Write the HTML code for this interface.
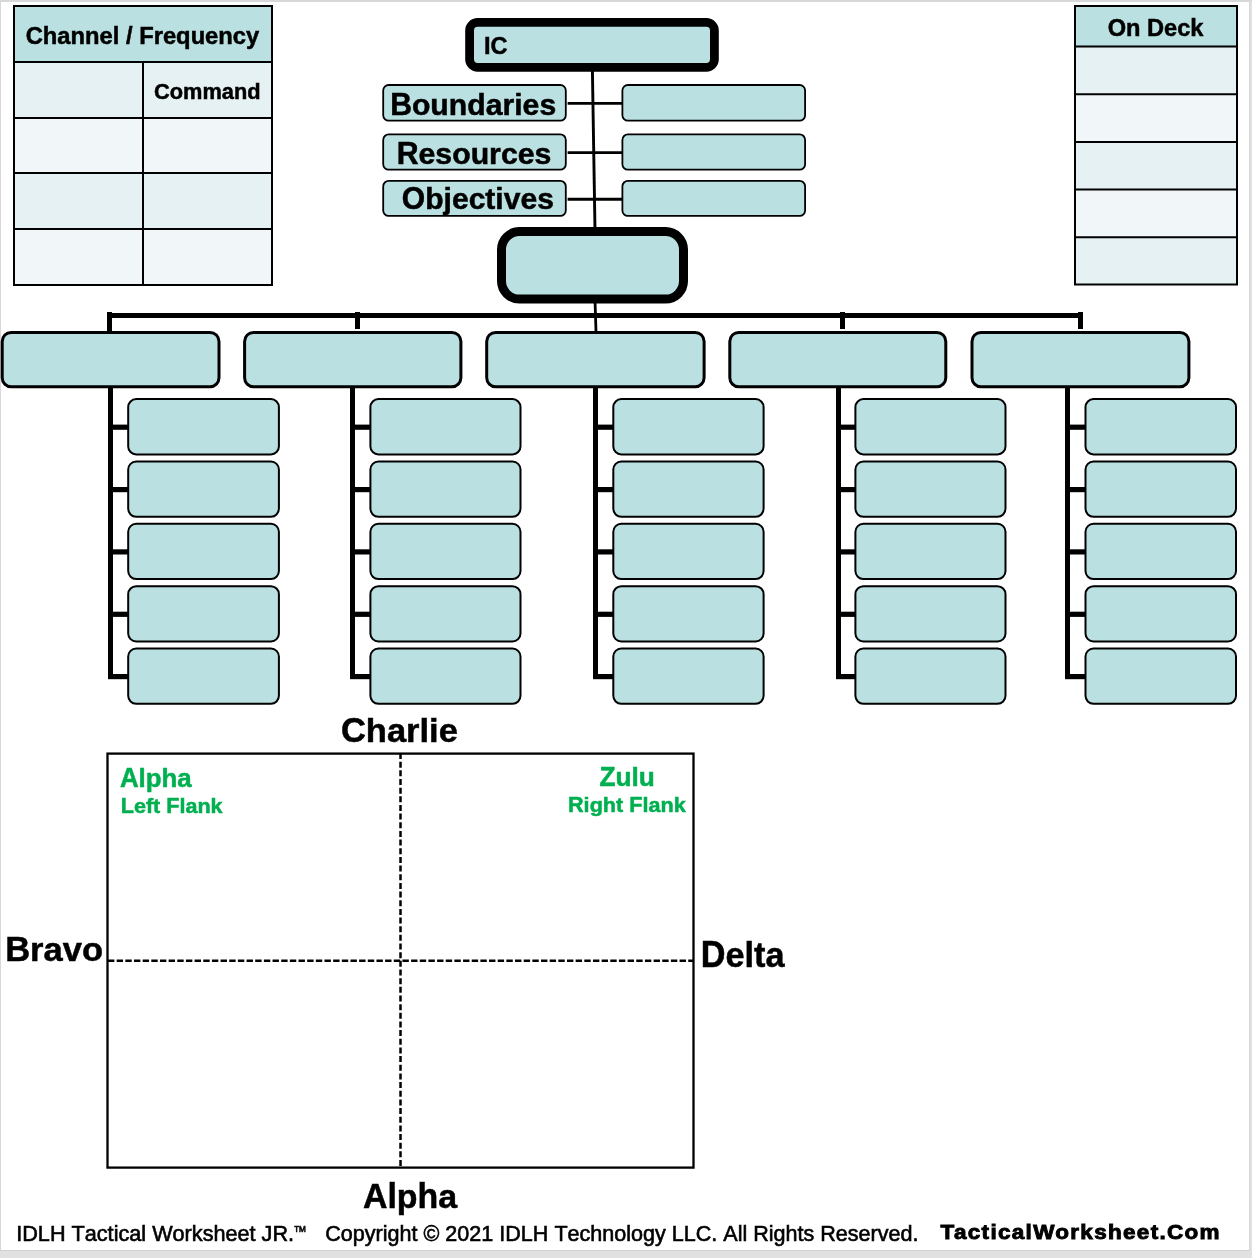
<!DOCTYPE html>
<html><head><meta charset="utf-8"><style>
html,body{margin:0;padding:0;background:#d9d9d9;width:1252px;height:1258px;overflow:hidden}
svg{display:block;will-change:transform;font-family:"Liberation Sans",sans-serif}
</style></head><body>
<svg width="1252" height="1258" viewBox="0 0 1252 1258">
<rect x="0" y="0" width="1252" height="1258" fill="#e1e1e1"/>
<rect x="0" y="0" width="1252" height="2" fill="#d8d8d8"/>
<rect x="0" y="0" width="1" height="1250" fill="#d8d8d8"/>
<rect x="1249" y="0" width="1" height="1251" fill="#d6d6d6"/>
<rect x="0" y="1250" width="1250" height="1" fill="#d0d0d0"/>
<rect x="1" y="2" width="1248" height="1248" fill="#fff"/>
<rect x="14" y="6" width="258" height="56" fill="#bae0e1"/>
<rect x="14" y="62" width="258" height="56" fill="#e6f1f3"/>
<rect x="14" y="118" width="258" height="55" fill="#f1f7f9"/>
<rect x="14" y="173" width="258" height="56" fill="#e6f1f3"/>
<rect x="14" y="229" width="258" height="56" fill="#f1f7f9"/>
<g stroke="#000" stroke-width="2" fill="none">
<rect x="14" y="6" width="258" height="279"/>
<line x1="13" y1="62" x2="273" y2="62"/>
<line x1="13" y1="118" x2="273" y2="118"/>
<line x1="13" y1="173" x2="273" y2="173"/>
<line x1="13" y1="229" x2="273" y2="229"/>
<line x1="143" y1="62" x2="143" y2="285"/>
</g>
<rect x="1075" y="6" width="162" height="40.5" fill="#bae0e1"/>
<rect x="1075" y="46.5" width="162" height="47.7" fill="#e6f1f3"/>
<rect x="1075" y="94.2" width="162" height="47.7" fill="#f1f7f9"/>
<rect x="1075" y="141.9" width="162" height="47.7" fill="#e6f1f3"/>
<rect x="1075" y="189.6" width="162" height="47.7" fill="#f1f7f9"/>
<rect x="1075" y="237.3" width="162" height="47.2" fill="#e6f1f3"/>
<g stroke="#000" stroke-width="2" fill="none">
<rect x="1075" y="6" width="162" height="278.5"/>
<line x1="1074" y1="46.5" x2="1238" y2="46.5"/>
<line x1="1074" y1="94.2" x2="1238" y2="94.2"/>
<line x1="1074" y1="141.9" x2="1238" y2="141.9"/>
<line x1="1074" y1="189.6" x2="1238" y2="189.6"/>
<line x1="1074" y1="237.3" x2="1238" y2="237.3"/>
</g>
<line x1="592.4" y1="70" x2="595.0" y2="230" stroke="#000" stroke-width="2.9"/>
<line x1="567.6" y1="103.4" x2="623" y2="103.4" stroke="#000" stroke-width="2.9"/>
<line x1="567.6" y1="152.6" x2="623" y2="152.6" stroke="#000" stroke-width="2.9"/>
<line x1="567.6" y1="199.2" x2="623" y2="199.2" stroke="#000" stroke-width="2.9"/>
<rect x="469.6" y="22.4" width="244.8" height="44.9" rx="8" fill="#bae0e1" stroke="#000" stroke-width="8.8"/>
<rect x="383.2" y="85.0" width="182.6" height="35.7" rx="5.5" fill="#bae0e1" stroke="#000" stroke-width="1.8"/>
<rect x="622.4" y="85.0" width="182.7" height="35.7" rx="5.5" fill="#bae0e1" stroke="#000" stroke-width="1.8"/>
<rect x="383.2" y="134.4" width="182.6" height="35.3" rx="5.5" fill="#bae0e1" stroke="#000" stroke-width="1.8"/>
<rect x="622.4" y="134.4" width="182.7" height="35.3" rx="5.5" fill="#bae0e1" stroke="#000" stroke-width="1.8"/>
<rect x="383.2" y="180.9" width="182.6" height="35.0" rx="5.5" fill="#bae0e1" stroke="#000" stroke-width="1.8"/>
<rect x="622.4" y="180.9" width="182.7" height="35.0" rx="5.5" fill="#bae0e1" stroke="#000" stroke-width="1.8"/>
<line x1="595" y1="300" x2="596" y2="332" stroke="#000" stroke-width="2.8"/>
<rect x="501.5" y="231.6" width="182" height="67.5" rx="18" fill="#bae0e1" stroke="#000" stroke-width="9"/>
<g fill="#000">
<rect x="107" y="313" width="976" height="5"/>
<rect x="107" y="312" width="5" height="19.5"/>
<rect x="355" y="312" width="5" height="17"/>
<rect x="840" y="312" width="5" height="17"/>
<rect x="1078" y="312" width="5" height="17"/>
</g>
<rect x="108" y="386" width="5" height="292.7" fill="#000"/>
<rect x="108" y="424.6" width="20.2" height="5.2" fill="#000"/>
<rect x="108" y="487.0" width="20.2" height="5.2" fill="#000"/>
<rect x="108" y="549.3" width="20.2" height="5.2" fill="#000"/>
<rect x="108" y="611.7" width="20.2" height="5.2" fill="#000"/>
<rect x="108" y="674.0" width="20.2" height="5.2" fill="#000"/>
<rect x="350" y="386" width="5" height="292.7" fill="#000"/>
<rect x="350" y="424.6" width="20.4" height="5.2" fill="#000"/>
<rect x="350" y="487.0" width="20.4" height="5.2" fill="#000"/>
<rect x="350" y="549.3" width="20.4" height="5.2" fill="#000"/>
<rect x="350" y="611.7" width="20.4" height="5.2" fill="#000"/>
<rect x="350" y="674.0" width="20.4" height="5.2" fill="#000"/>
<rect x="593" y="386" width="5" height="292.7" fill="#000"/>
<rect x="593" y="424.6" width="20.3" height="5.2" fill="#000"/>
<rect x="593" y="487.0" width="20.3" height="5.2" fill="#000"/>
<rect x="593" y="549.3" width="20.3" height="5.2" fill="#000"/>
<rect x="593" y="611.7" width="20.3" height="5.2" fill="#000"/>
<rect x="593" y="674.0" width="20.3" height="5.2" fill="#000"/>
<rect x="836" y="386" width="5" height="292.7" fill="#000"/>
<rect x="836" y="424.6" width="19.4" height="5.2" fill="#000"/>
<rect x="836" y="487.0" width="19.4" height="5.2" fill="#000"/>
<rect x="836" y="549.3" width="19.4" height="5.2" fill="#000"/>
<rect x="836" y="611.7" width="19.4" height="5.2" fill="#000"/>
<rect x="836" y="674.0" width="19.4" height="5.2" fill="#000"/>
<rect x="1065" y="386" width="5" height="292.7" fill="#000"/>
<rect x="1065" y="424.6" width="20.5" height="5.2" fill="#000"/>
<rect x="1065" y="487.0" width="20.5" height="5.2" fill="#000"/>
<rect x="1065" y="549.3" width="20.5" height="5.2" fill="#000"/>
<rect x="1065" y="611.7" width="20.5" height="5.2" fill="#000"/>
<rect x="1065" y="674.0" width="20.5" height="5.2" fill="#000"/>
<rect x="2.2" y="332.4" width="216.8" height="54.4" rx="9" fill="#bae0e1" stroke="#000" stroke-width="3"/>
<rect x="244.6" y="332.4" width="216.3" height="54.4" rx="9" fill="#bae0e1" stroke="#000" stroke-width="3"/>
<rect x="486.7" y="332.4" width="217.4" height="54.4" rx="9" fill="#bae0e1" stroke="#000" stroke-width="3"/>
<rect x="729.8" y="332.4" width="216.0" height="54.4" rx="9" fill="#bae0e1" stroke="#000" stroke-width="3"/>
<rect x="972.0" y="332.4" width="216.9" height="54.4" rx="9" fill="#bae0e1" stroke="#000" stroke-width="3"/>
<rect x="128.2" y="399.1" width="150.7" height="55.3" rx="8" fill="#bae0e1" stroke="#000" stroke-width="2"/>
<rect x="128.2" y="461.5" width="150.7" height="55.3" rx="8" fill="#bae0e1" stroke="#000" stroke-width="2"/>
<rect x="128.2" y="523.8" width="150.7" height="55.3" rx="8" fill="#bae0e1" stroke="#000" stroke-width="2"/>
<rect x="128.2" y="586.2" width="150.7" height="55.3" rx="8" fill="#bae0e1" stroke="#000" stroke-width="2"/>
<rect x="128.2" y="648.5" width="150.7" height="55.3" rx="8" fill="#bae0e1" stroke="#000" stroke-width="2"/>
<rect x="370.4" y="399.1" width="150.1" height="55.3" rx="8" fill="#bae0e1" stroke="#000" stroke-width="2"/>
<rect x="370.4" y="461.5" width="150.1" height="55.3" rx="8" fill="#bae0e1" stroke="#000" stroke-width="2"/>
<rect x="370.4" y="523.8" width="150.1" height="55.3" rx="8" fill="#bae0e1" stroke="#000" stroke-width="2"/>
<rect x="370.4" y="586.2" width="150.1" height="55.3" rx="8" fill="#bae0e1" stroke="#000" stroke-width="2"/>
<rect x="370.4" y="648.5" width="150.1" height="55.3" rx="8" fill="#bae0e1" stroke="#000" stroke-width="2"/>
<rect x="613.3" y="399.1" width="150.3" height="55.3" rx="8" fill="#bae0e1" stroke="#000" stroke-width="2"/>
<rect x="613.3" y="461.5" width="150.3" height="55.3" rx="8" fill="#bae0e1" stroke="#000" stroke-width="2"/>
<rect x="613.3" y="523.8" width="150.3" height="55.3" rx="8" fill="#bae0e1" stroke="#000" stroke-width="2"/>
<rect x="613.3" y="586.2" width="150.3" height="55.3" rx="8" fill="#bae0e1" stroke="#000" stroke-width="2"/>
<rect x="613.3" y="648.5" width="150.3" height="55.3" rx="8" fill="#bae0e1" stroke="#000" stroke-width="2"/>
<rect x="855.4" y="399.1" width="150.1" height="55.3" rx="8" fill="#bae0e1" stroke="#000" stroke-width="2"/>
<rect x="855.4" y="461.5" width="150.1" height="55.3" rx="8" fill="#bae0e1" stroke="#000" stroke-width="2"/>
<rect x="855.4" y="523.8" width="150.1" height="55.3" rx="8" fill="#bae0e1" stroke="#000" stroke-width="2"/>
<rect x="855.4" y="586.2" width="150.1" height="55.3" rx="8" fill="#bae0e1" stroke="#000" stroke-width="2"/>
<rect x="855.4" y="648.5" width="150.1" height="55.3" rx="8" fill="#bae0e1" stroke="#000" stroke-width="2"/>
<rect x="1085.5" y="399.1" width="150.5" height="55.3" rx="8" fill="#bae0e1" stroke="#000" stroke-width="2"/>
<rect x="1085.5" y="461.5" width="150.5" height="55.3" rx="8" fill="#bae0e1" stroke="#000" stroke-width="2"/>
<rect x="1085.5" y="523.8" width="150.5" height="55.3" rx="8" fill="#bae0e1" stroke="#000" stroke-width="2"/>
<rect x="1085.5" y="586.2" width="150.5" height="55.3" rx="8" fill="#bae0e1" stroke="#000" stroke-width="2"/>
<rect x="1085.5" y="648.5" width="150.5" height="55.3" rx="8" fill="#bae0e1" stroke="#000" stroke-width="2"/>
<rect x="107.5" y="753.6" width="586" height="414" fill="none" stroke="#000" stroke-width="2.3"/>
<line x1="400.5" y1="753" x2="400.5" y2="1167" stroke="#000" stroke-width="2.5" stroke-dasharray="6 2.66"/>
<line x1="108" y1="960.7" x2="693" y2="960.7" stroke="#000" stroke-width="2.5" stroke-dasharray="6.4 2.26"/>
<text transform="translate(25.68,44.0) scale(1.0067,1.0410)" x="0.00 112.73" y="0" font-size="23.59" font-weight="bold" fill="#000" stroke="#000" stroke-width="0.48">CF</text>
<text transform="translate(25.68,44.0) scale(1.0067,0.9880)" x="17.04 86.51" y="0" font-size="23.59" font-weight="bold" fill="#000" stroke="#000" stroke-width="0.51">hl</text>
<text transform="translate(25.68,44.0) scale(1.0067,0.9830)" x="31.45 44.57 58.98 73.39 99.62 127.14 136.32 149.44 163.85 178.26 191.39 205.80 218.92" y="0" font-size="23.59" font-weight="bold" fill="#000" stroke="#000" stroke-width="0.51">anne/requency</text>
<text transform="translate(153.96,98.9) scale(0.9994,1.0410)" x="0.00" y="0" font-size="21.82" font-weight="bold" fill="#000" stroke="#000" stroke-width="0.48">C</text>
<text transform="translate(153.96,98.9) scale(0.9994,0.9880)" x="93.36" y="0" font-size="21.82" font-weight="bold" fill="#000" stroke="#000" stroke-width="0.51">d</text>
<text transform="translate(153.96,98.9) scale(0.9994,0.9830)" x="15.76 29.09 48.49 67.90 80.03" y="0" font-size="21.82" font-weight="bold" fill="#000" stroke="#000" stroke-width="0.51">omman</text>
<text transform="translate(1107.68,35.8) scale(0.9972,1.0410)" x="0.00 39.48" y="0" font-size="23.69" font-weight="bold" fill="#000" stroke="#000" stroke-width="0.48">OD</text>
<text transform="translate(1107.68,35.8) scale(0.9972,0.9880)" x="82.94" y="0" font-size="23.69" font-weight="bold" fill="#000" stroke="#000" stroke-width="0.51">k</text>
<text transform="translate(1107.68,35.8) scale(0.9972,0.9830)" x="18.43 56.59 69.76" y="0" font-size="23.69" font-weight="bold" fill="#000" stroke="#000" stroke-width="0.51">nec</text>
<text transform="translate(484.07,54.0) scale(1.0000,1.0410)" x="0.00 6.55" y="0" font-size="23.59" font-weight="bold" fill="#000" stroke="#000" stroke-width="0.48">IC</text>
<text transform="translate(390.13,114.9) scale(1.0102,1.0410)" x="0.00" y="0" font-size="29.88" font-weight="bold" fill="#000" stroke="#000" stroke-width="0.48">B</text>
<text transform="translate(390.13,114.9) scale(1.0102,0.9880)" x="76.34 122.85" y="0" font-size="29.88" font-weight="bold" fill="#000" stroke="#000" stroke-width="0.51">di</text>
<text transform="translate(390.13,114.9) scale(1.0102,0.9830)" x="21.58 39.83 58.09 94.60 111.22 131.15 147.77" y="0" font-size="29.88" font-weight="bold" fill="#000" stroke="#000" stroke-width="0.51">ounares</text>
<text transform="translate(396.63,163.6) scale(1.0128,1.0410)" x="0.00" y="0" font-size="29.88" font-weight="bold" fill="#000" stroke="#000" stroke-width="0.48">R</text>
<text transform="translate(396.63,163.6) scale(1.0128,0.9830)" x="21.58 38.20 54.82 73.07 91.33 102.96 119.58 136.20" y="0" font-size="29.88" font-weight="bold" fill="#000" stroke="#000" stroke-width="0.51">esources</text>
<text transform="translate(401.82,209.2) scale(1.0060,1.0410)" x="0.00" y="0" font-size="29.88" font-weight="bold" fill="#000" stroke="#000" stroke-width="0.48">O</text>
<text transform="translate(401.82,209.2) scale(1.0060,0.9880)" x="23.24 41.50 83.04 92.99" y="0" font-size="29.88" font-weight="bold" fill="#000" stroke="#000" stroke-width="0.51">bjti</text>
<text transform="translate(401.82,209.2) scale(1.0060,0.9830)" x="49.80 66.42 101.29 117.91 134.53" y="0" font-size="29.88" font-weight="bold" fill="#000" stroke="#000" stroke-width="0.51">ecves</text>
<text transform="translate(340.94,741.9) scale(1.0022,1.0410)" x="0.00" y="0" font-size="34.41" font-weight="bold" fill="#000" stroke="#000" stroke-width="0.48">C</text>
<text transform="translate(340.94,741.9) scale(1.0022,0.9880)" x="24.85 78.39 87.94" y="0" font-size="34.41" font-weight="bold" fill="#000" stroke="#000" stroke-width="0.51">hli</text>
<text transform="translate(340.94,741.9) scale(1.0022,0.9830)" x="45.86 65.00 97.50" y="0" font-size="34.41" font-weight="bold" fill="#000" stroke="#000" stroke-width="0.51">are</text>
<text transform="translate(119.91,786.8) scale(0.9957,1.0410)" x="0.00" y="0" font-size="25.95" font-weight="bold" fill="#00b050" stroke="#00b050" stroke-width="0.48">A</text>
<text transform="translate(119.91,786.8) scale(0.9957,0.9880)" x="18.74 41.80" y="0" font-size="25.95" font-weight="bold" fill="#00b050" stroke="#00b050" stroke-width="0.51">lh</text>
<text transform="translate(119.91,786.8) scale(0.9957,0.9830)" x="25.95 57.66" y="0" font-size="25.95" font-weight="bold" fill="#00b050" stroke="#00b050" stroke-width="0.51">pa</text>
<text transform="translate(120.71,812.7) scale(1.0117,1.0410)" x="0.00 45.03" y="0" font-size="21.33" font-weight="bold" fill="#00b050" stroke="#00b050" stroke-width="0.48">LF</text>
<text transform="translate(120.71,812.7) scale(1.0117,0.9880)" x="24.89 32.00 58.06 88.88" y="0" font-size="21.33" font-weight="bold" fill="#00b050" stroke="#00b050" stroke-width="0.51">ftlk</text>
<text transform="translate(120.71,812.7) scale(1.0117,0.9830)" x="13.03 63.98 75.85" y="0" font-size="21.33" font-weight="bold" fill="#00b050" stroke="#00b050" stroke-width="0.51">ean</text>
<text transform="translate(599.47,786.0) scale(1.0042,1.0410)" x="0.00" y="0" font-size="26.15" font-weight="bold" fill="#00b050" stroke="#00b050" stroke-width="0.48">Z</text>
<text transform="translate(599.47,786.0) scale(1.0042,0.9880)" x="31.94" y="0" font-size="26.15" font-weight="bold" fill="#00b050" stroke="#00b050" stroke-width="0.51">l</text>
<text transform="translate(599.47,786.0) scale(1.0042,0.9830)" x="15.97 39.21" y="0" font-size="26.15" font-weight="bold" fill="#00b050" stroke="#00b050" stroke-width="0.51">uu</text>
<text transform="translate(568.00,811.5) scale(1.0146,1.0410)" x="0.00 60.42" y="0" font-size="21.33" font-weight="bold" fill="#00b050" stroke="#00b050" stroke-width="0.48">RF</text>
<text transform="translate(568.00,811.5) scale(1.0146,0.9880)" x="15.40 34.36 47.39 73.45 104.27" y="0" font-size="21.33" font-weight="bold" fill="#00b050" stroke="#00b050" stroke-width="0.51">ihtlk</text>
<text transform="translate(568.00,811.5) scale(1.0146,0.9830)" x="21.33 79.38 91.24" y="0" font-size="21.33" font-weight="bold" fill="#00b050" stroke="#00b050" stroke-width="0.51">gan</text>
<text transform="translate(5.14,960.7) scale(1.0035,1.0202)" x="0.00" y="0" font-size="34.41" font-weight="bold" fill="#000" stroke="#000" stroke-width="0.49">B</text>
<text transform="translate(5.14,960.7) scale(1.0035,0.9633)" x="24.85 38.24 57.37 76.50" y="0" font-size="34.41" font-weight="bold" fill="#000" stroke="#000" stroke-width="0.52">ravo</text>
<text transform="translate(700.86,967.0) scale(0.9945,1.0566)" x="0.00" y="0" font-size="34.41" font-weight="bold" fill="#000" stroke="#000" stroke-width="0.47">D</text>
<text transform="translate(700.86,967.0) scale(0.9945,1.0028)" x="43.98 53.54" y="0" font-size="34.41" font-weight="bold" fill="#000" stroke="#000" stroke-width="0.50">lt</text>
<text transform="translate(700.86,967.0) scale(0.9945,0.9977)" x="24.85 65.00" y="0" font-size="34.41" font-weight="bold" fill="#000" stroke="#000" stroke-width="0.50">ea</text>
<text transform="translate(362.91,1207.9) scale(0.9860,1.0462)" x="0.00" y="0" font-size="34.41" font-weight="bold" fill="#000" stroke="#000" stroke-width="0.48">A</text>
<text transform="translate(362.91,1207.9) scale(0.9860,0.9929)" x="24.85 55.42" y="0" font-size="34.41" font-weight="bold" fill="#000" stroke="#000" stroke-width="0.50">lh</text>
<text transform="translate(362.91,1207.9) scale(0.9860,0.9879)" x="34.41 76.44" y="0" font-size="34.41" font-weight="bold" fill="#000" stroke="#000" stroke-width="0.51">pa</text>
<text transform="translate(16.20,1241.0) scale(1.0010,1.0410)" x="0.00 6.01 21.63 33.65 55.28 135.80 245.16 255.97" y="0" font-size="21.63" font-weight="normal" fill="#000" stroke="#000" stroke-width="0.58">IDLHTWJR</text>
<text transform="translate(16.20,1241.0) scale(1.0010,0.9880)" x="91.33 97.34 124.98 175.44 197.06 233.14" y="0" font-size="21.63" font-weight="normal" fill="#000" stroke="#000" stroke-width="0.61">tilkht</text>
<text transform="translate(16.20,1241.0) scale(1.0010,0.9830)" x="68.49 80.52 102.14 112.96 156.21 168.24 186.25 209.09 221.12 271.59" y="0" font-size="21.63" font-weight="normal" fill="#000" stroke="#000" stroke-width="0.61">accaorsee.</text>
<text transform="translate(325.31,1241.0) scale(0.9964,1.0410)" x="0.00 120.51 132.53 144.56 156.59 174.62 180.63 196.25 208.28 229.90 347.72 359.74 371.77 399.41 429.45 496.75" y="0" font-size="21.63" font-weight="normal" fill="#000" stroke="#000" stroke-width="0.58">C2021IDLHTLLCARR</text>
<text transform="translate(325.31,1241.0) scale(0.9964,0.9880)" x="57.69 74.52 86.55 265.95 302.04 413.83 418.63 445.06 461.90 473.92 577.28" y="0" font-size="21.63" font-weight="normal" fill="#000" stroke="#000" stroke-width="0.61">ihthlllihtd</text>
<text transform="translate(325.31,1241.0) scale(0.9964,0.9830)" x="15.62 27.64 39.67 50.49 62.49 98.56 243.11 255.14 277.98 290.01 306.84 318.87 330.89 387.39 449.87 479.93 512.37 524.40 535.21 547.24 554.44 565.25 589.31" y="0" font-size="21.63" font-weight="normal" fill="#000" stroke="#000" stroke-width="0.61">opyrg©ecnoogy.gseserve.</text>
<text transform="translate(293.5,1236.8) scale(0.93,1.1)" font-size="14.2" fill="#000" stroke="#000" stroke-width="0.55">™</text>
<text transform="translate(940.6,1239.2) scale(1,0.92)" x="0" y="0" font-size="22.5" font-weight="bold" fill="#000" stroke="#000" stroke-width="1.0" stroke-linejoin="miter" textLength="279" lengthAdjust="spacing">TacticalWorksheet.Com</text>
</svg>
</body></html>
